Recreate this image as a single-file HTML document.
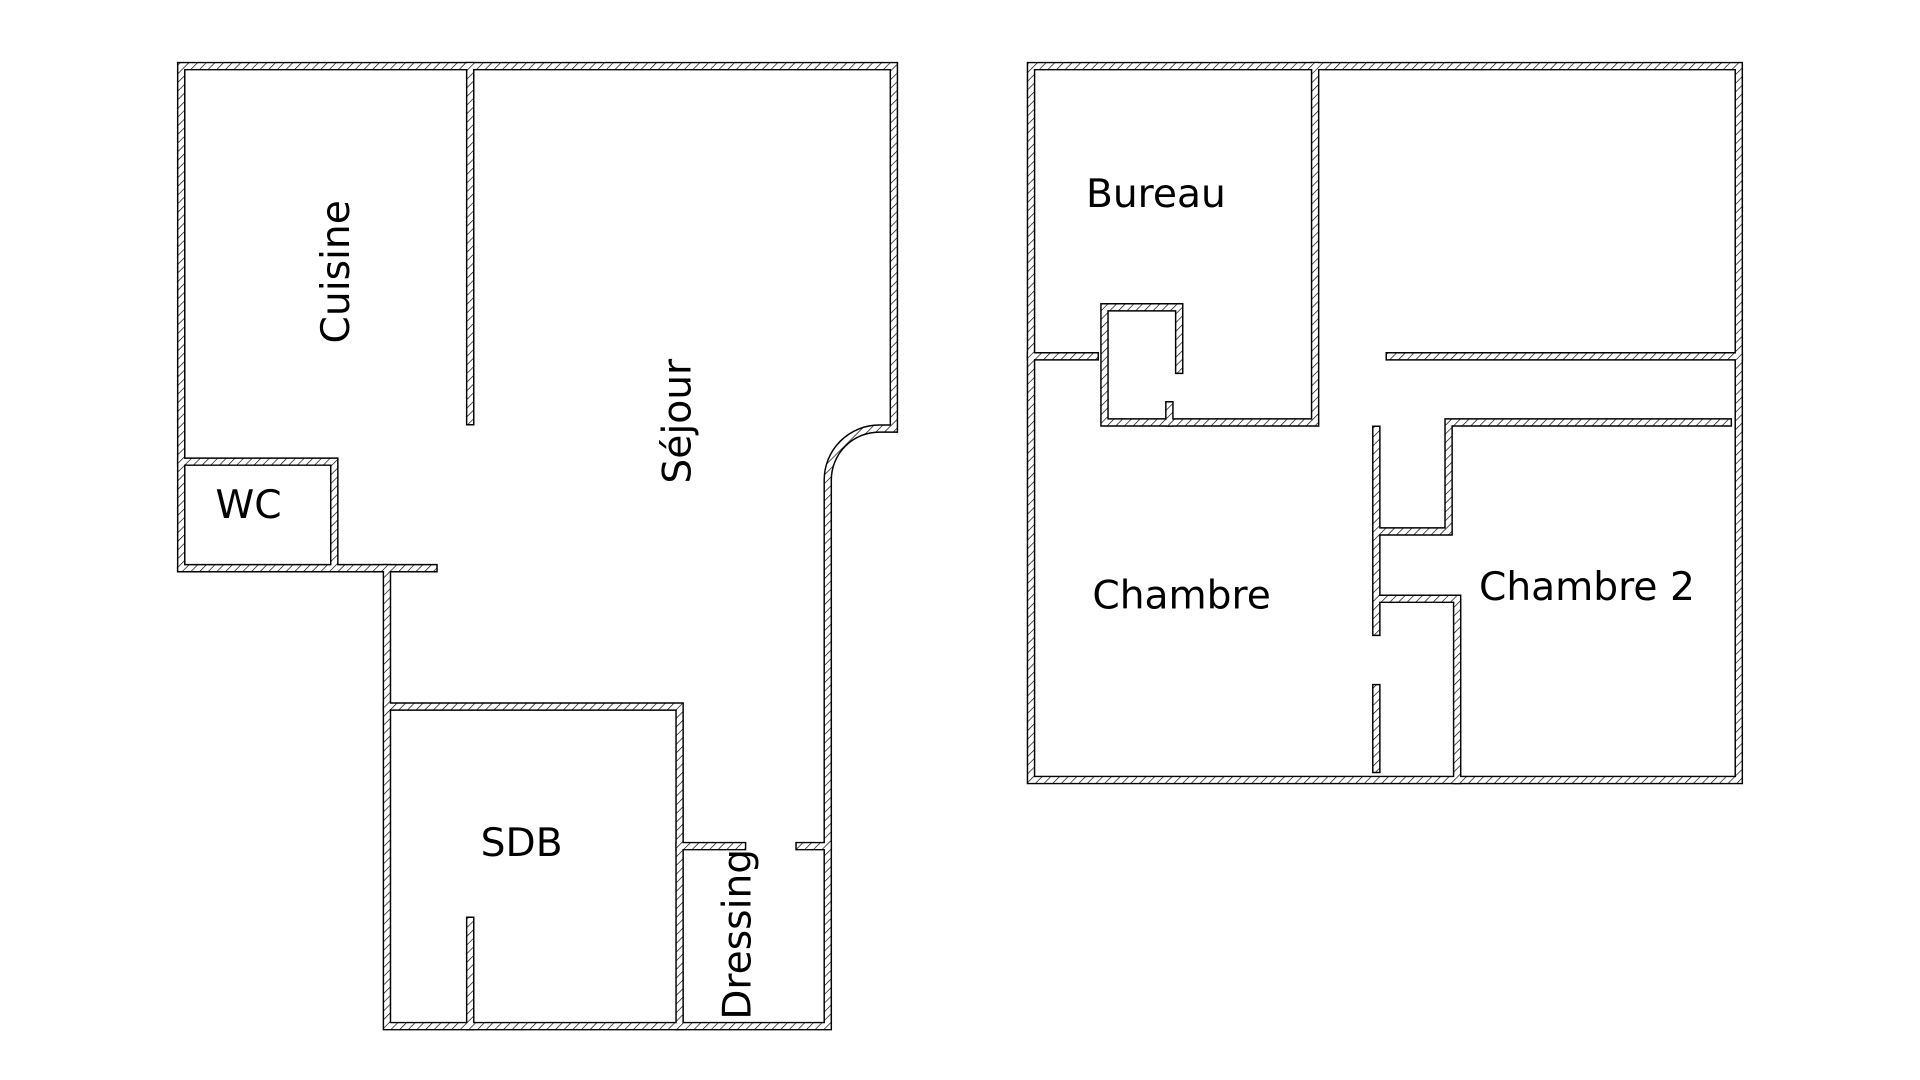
<!DOCTYPE html>
<html><head><meta charset="utf-8"><style>html,body{margin:0;padding:0;background:#fff}svg{display:block}</style></head>
<body>
<svg width="1920" height="1080" viewBox="0 0 1568 882" xmlns="http://www.w3.org/2000/svg">
<defs>
<pattern id="h" patternUnits="userSpaceOnUse" width="5" height="5" patternTransform="rotate(45)">
<rect width="5" height="5" fill="#fff"/><line x1="0" y1="0" x2="0" y2="5" stroke="#000" stroke-width="1.1"/>
</pattern>
<g id="walls" fill="none" stroke-linecap="square" stroke-linejoin="miter">
<path d="M148,464 L148,54 L730,54 L730,350 L718,350 A42,42 0 0 0 676,392 L676,838 L316,838 L316,464 L354,464"/>
<path d="M148,464 L316,464"/>
<path d="M384,54 L384,344"/>
<path d="M148,377 L273,377 L273,462"/>
<path d="M316,577 L555,577 L555,838"/>
<path d="M384,752 L384,838"/>
<path d="M555,691 L606,691"/>
<path d="M653,691 L676,691"/>
<path d="M842,54 L1420,54 L1420,637 L842,637 Z"/>
<path d="M1074,54 L1074,345 L902,345 L902,251 L963,251 L963,302"/>
<path d="M955,331 L955,345"/>
<path d="M842,291 L894,291"/>
<path d="M1135,291 L1420,291"/>
<path d="M1411,345 L1183,345 L1183,434 L1124,434"/>
<path d="M1124,351 L1124,516"/>
<path d="M1124,489 L1190,489 L1190,637"/>
<path d="M1124,562 L1124,628"/>
</g>
</defs>
<use href="#walls" stroke="#000" stroke-width="7"/>
<use href="#walls" stroke="url(#h)" stroke-width="4.6"/>
<g font-family="DejaVu Sans, Liberation Sans, sans-serif" font-size="32" fill="#000" text-anchor="middle">
<text transform="translate(285,222) rotate(-90)">Cuisine</text>
<text transform="translate(564,344) rotate(-90)">Séjour</text>
<text x="203" y="423">WC</text>
<text x="426" y="699">SDB</text>
<text transform="translate(613,763) rotate(-90)">Dressing</text>
<text x="944" y="169">Bureau</text>
<text x="965" y="497">Chambre</text>
<text x="1296" y="490">Chambre 2</text>
</g>
</svg>
</body></html>
